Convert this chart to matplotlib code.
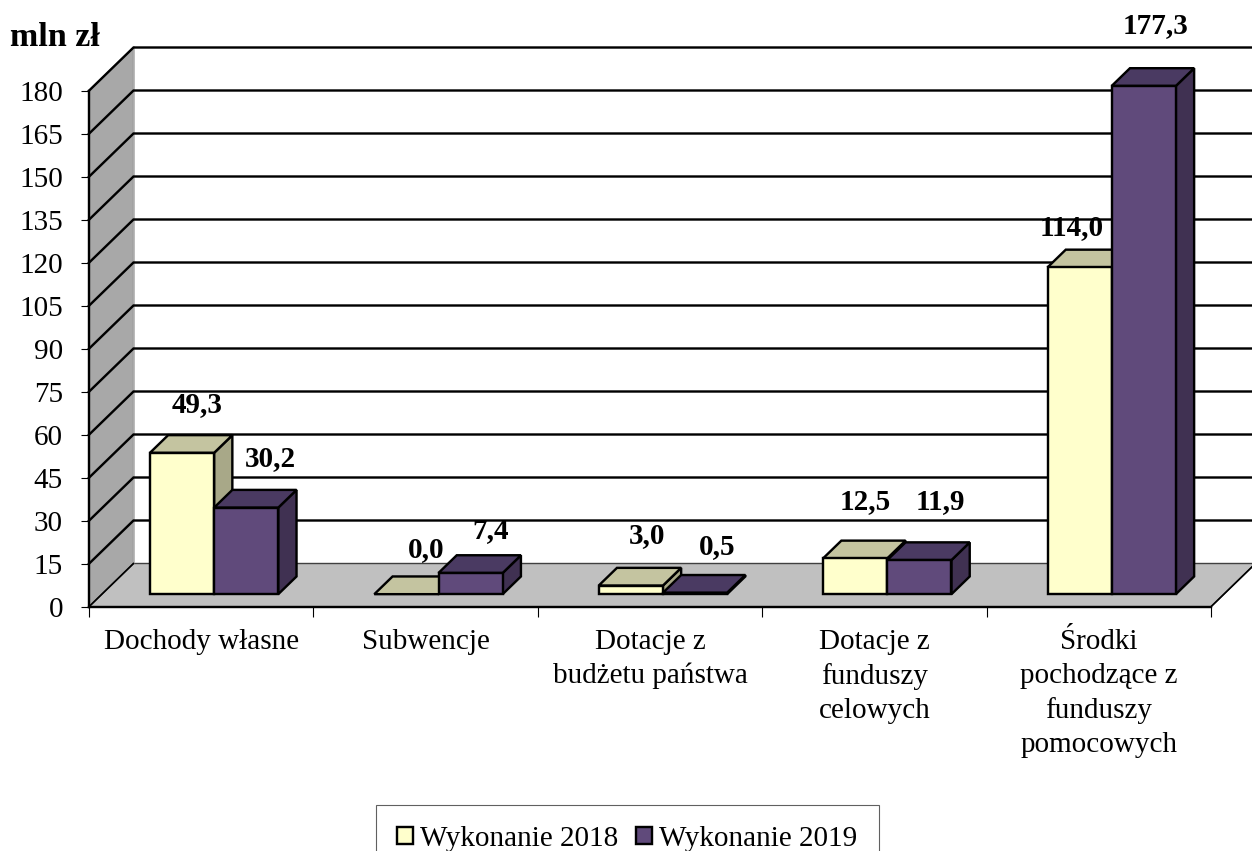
import matplotlib
matplotlib.use("Agg")
import matplotlib.pyplot as plt
from matplotlib.patches import Patch, Polygon

plt.rcParams['font.family'] = ['Liberation Serif', 'DejaVu Serif']

categories = ["Dochody własne", "Subwencje", "Dotacje z\nbudżetu państwa",
              "Dotacje z\nfunduszy\ncelowych", "Środki\npochodzące z\nfunduszy\npomocowych"]
series_names = ["Wykonanie 2018", "Wykonanie 2019"]
values_2018 = [49.3, 0.0, 3.0, 12.5, 114.0]
values_2019 = [30.2, 7.4, 0.5, 11.9, 177.3]
y_ticks = [0, 15, 30, 45, 60, 75, 90, 105, 120, 135, 150, 165, 180]
# label nudges in pixels from the bar's top-centre (dx, dy up)
nudge_2018 = [(15, 48), (20, 45), (16, 50), (10, 57), (-8, 40)]
nudge_2019 = [(24, 49), (20, 42), (22, 46), (21, 59), (12, 60)]

W, H = 1252, 851
FS = 21
fig = plt.figure(figsize=(W / 100, H / 100), dpi=100)
ax = fig.add_axes([89 / W, 1 - 606.7 / H, 1122 / W, 516 / H])
ax.set_xlim(0, 5)
ax.set_ylim(0, 180)
ax.patch.set_visible(False)

DX, DY = 44.5 / 224.4, 15.07        # full depth of the pseudo-3D box in data units
BAR_W = 0.286
D0, D1 = 0.29, 0.70                 # depth range occupied by bars
EDGE = 2.4 / 100 * 72

def pr(x, y, d=0.0):
    return (x + d * DX, y + d * DY)

def face(points, fc, ec='black', lw=EDGE, z=3):
    ax.add_patch(Polygon([pr(*p) for p in points], closed=True, facecolor=fc,
                         edgecolor=ec, linewidth=lw, joinstyle='miter',
                         clip_on=False, zorder=z))

# walls and floor
face([(0, 0, 0), (0, 180, 0), (0, 180, 1), (0, 0, 1)], '#A8A8A8', ec='#8C8C8C', lw=1.0, z=1)
face([(0, 0, 0), (5, 0, 0), (5, 0, 1), (0, 0, 1)], '#C0C0C0', ec='#404040', lw=1.0, z=1)
ax.plot(*zip(pr(0, 0, 1), pr(0, 180, 1)), color='#B2B2B2', lw=1.2, clip_on=False, zorder=1.2)

# gridlines: diagonal on wall, horizontal on back plane
for t in y_ticks[1:]:
    ax.plot(*zip(pr(0, t, 0), pr(0, t, 1), pr(5, t, 1)), color='black', lw=EDGE,
            clip_on=False, zorder=1.5, solid_joinstyle='miter')
ax.plot(*zip(pr(5, 0, 0), pr(5, 0, 1)), color='black', lw=1.2, clip_on=False, zorder=1.5)
ax.plot(*zip(pr(0, 0, 0), pr(0, 0, 1)), color='black', lw=1.2, clip_on=False, zorder=1.5)

styles = [('#FFFFCC', '#C4C4A0', '#A8A888'), ('#604A7B', '#4A3A62', '#403152')]

def bar3d(x0, v, colors, z):
    x1 = x0 + BAR_W
    front, top, side = colors
    face([(x1, 0, D0), (x1, 0, D1), (x1, v, D1), (x1, v, D0)], side, z=z)
    face([(x0, v, D0), (x1, v, D0), (x1, v, D1), (x0, v, D1)], top, z=z)
    if v > 0:
        face([(x0, 0, D0), (x1, 0, D0), (x1, v, D0), (x0, v, D0)], front, z=z)

for i in range(5):
    left = i + 0.5 - BAR_W
    bar3d(left, values_2018[i], styles[0], 3)
    bar3d(left + BAR_W, values_2019[i], styles[1], 3.1)

for j, (vals, nudges) in enumerate([(values_2018, nudge_2018), (values_2019, nudge_2019)]):
    for i, (v, (nx, ny)) in enumerate(zip(vals, nudges)):
        xc = i + 0.5 - BAR_W + (j + 0.5) * BAR_W
        ax.annotate(f"{v:.1f}".replace('.', ','), xy=pr(xc, v, D0),
                    xytext=(nx * 0.72, ny * 0.72), textcoords='offset points',
                    ha='center', va='center', fontsize=FS, fontweight='bold',
                    zorder=6, annotation_clip=False)

# axes furniture
for s in ('top', 'right'):
    ax.spines[s].set_visible(False)
for s in ('left', 'bottom'):
    ax.spines[s].set_linewidth(EDGE)
    ax.spines[s].set_zorder(2)
ax.set_yticks(y_ticks)
ax.set_yticklabels([str(t) for t in y_ticks], fontsize=FS)
ax.tick_params(axis='y', length=5.8, width=0.8, pad=13)
ax.set_xticks([i + 0.5 for i in range(5)])
ax.set_xticklabels(categories, fontsize=FS, linespacing=1.39)
ax.set_xticks(range(6), minor=True)
ax.tick_params(axis='x', which='major', length=0, pad=16)
ax.tick_params(axis='x', which='minor', length=7, width=0.8)

fig.text(55 / W, 1 - 38 / H, "mln zł", ha='center', va='center',
         fontsize=24.5, fontweight='bold')

handles = [Patch(facecolor=styles[k][0], edgecolor='black', linewidth=EDGE, label=series_names[k])
           for k in range(2)]
leg = fig.legend(handles=handles, ncol=2, loc='upper left',
                 bbox_to_anchor=(376 / W, 1 - 805 / H), borderaxespad=0,
                 fontsize=FS, frameon=True, fancybox=False, edgecolor='#606060',
                 framealpha=1, handlelength=0.55, handleheight=0.55,
                 handletextpad=0.24, columnspacing=0.62, borderpad=0.72)
leg.get_frame().set_linewidth(0.8)

fig.savefig("out.png", dpi=100)
